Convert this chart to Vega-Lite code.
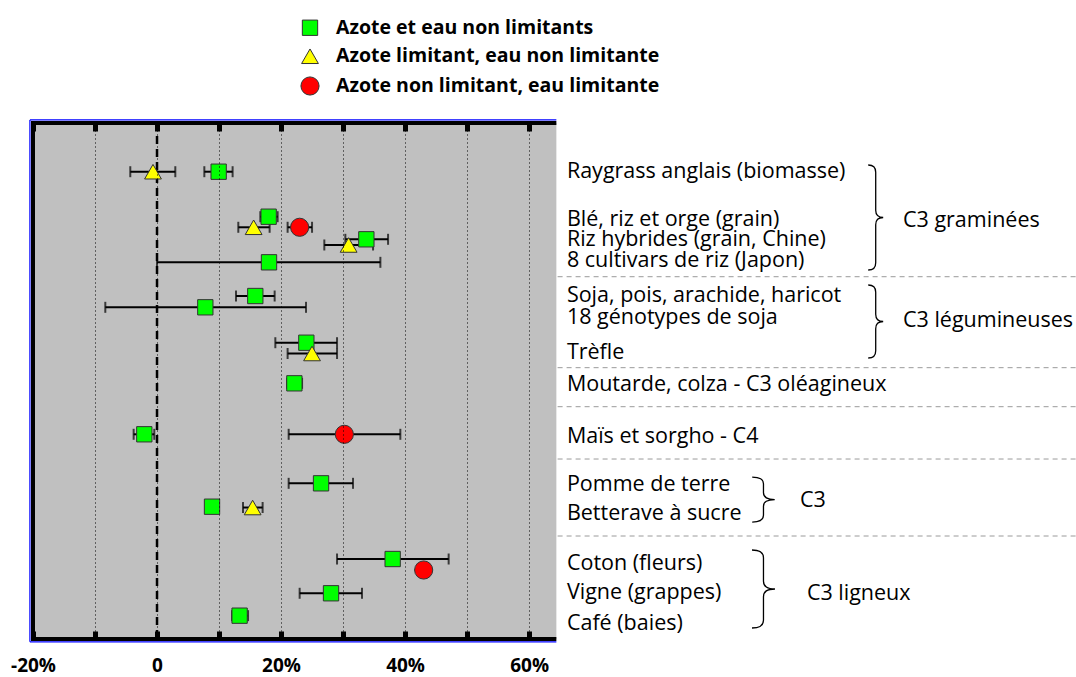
{
  "$schema": "https://vega.github.io/schema/vega-lite/v6.json",
  "width": 1043,
  "height": 516,
  "autosize": {"type": "none"},
  "padding": {"left": 33, "top": 123, "right": 0, "bottom": 38},
  "background": "white",
  "config": {"view": {"stroke": null}, "axisY": {"disable": true}},
  "resolve": {"axis": {"x": "independent"}},
  "datasets": {
    "points": [
      {"crop": "Raygrass anglais", "cond": "Azote limitant, eau non limitante", "effect": -0.65, "lo": -4.31, "hi": 2.95, "row": 9.44},
      {"crop": "Raygrass anglais", "cond": "Azote et eau non limitants", "effect": 9.94, "lo": 7.63, "hi": 12.19, "row": 9.44},
      {"crop": "Blé, riz et orge", "cond": "Azote et eau non limitants", "effect": 18.0, "lo": 16.66, "hi": 19.45, "row": 18.16},
      {"crop": "Blé, riz et orge", "cond": "Azote limitant, eau non limitante", "effect": 15.58, "lo": 13.11, "hi": 18.16, "row": 20.21},
      {"crop": "Blé, riz et orge", "cond": "Azote non limitant, eau limitante", "effect": 23.0, "lo": 21.06, "hi": 25.0, "row": 20.21},
      {"crop": "Riz hybrides", "cond": "Azote et eau non limitants", "effect": 33.76, "lo": 30.37, "hi": 37.26, "row": 22.54},
      {"crop": "Riz hybrides", "cond": "Azote limitant, eau non limitante", "effect": 30.9, "lo": 26.98, "hi": 34.84, "row": 23.64},
      {"crop": "8 cultivars de riz", "cond": "Azote et eau non limitants", "effect": 18.06, "lo": 0, "hi": 36.02, "row": 27.0},
      {"crop": "Soja, pois, arachide, haricot", "cond": "Azote et eau non limitants", "effect": 15.85, "lo": 12.74, "hi": 18.97, "row": 33.53},
      {"crop": "18 génotypes de soja", "cond": "Azote et eau non limitants", "effect": 7.79, "lo": -8.34, "hi": 24.03, "row": 35.72},
      {"crop": "Trèfle", "cond": "Azote et eau non limitants", "effect": 24.08, "lo": 19.08, "hi": 29.03, "row": 42.58},
      {"crop": "Trèfle", "cond": "Azote limitant, eau non limitante", "effect": 25.0, "lo": 21.06, "hi": 29.03, "row": 44.67},
      {"crop": "Moutarde, colza", "cond": "Azote et eau non limitants", "effect": 22.15, "lo": 20.97, "hi": 23.39, "row": 50.45},
      {"crop": "Maïs et sorgho", "cond": "Azote et eau non limitants", "effect": -2.05, "lo": -3.77, "hi": -0.44, "row": 60.33},
      {"crop": "Maïs et sorgho", "cond": "Azote non limitant, eau limitante", "effect": 30.21, "lo": 21.23, "hi": 39.24, "row": 60.33},
      {"crop": "Pomme de terre", "cond": "Azote et eau non limitants", "effect": 26.45, "lo": 21.23, "hi": 31.61, "row": 69.83},
      {"crop": "Betterave à sucre", "cond": "Azote et eau non limitants", "effect": 8.87, "lo": 7.9, "hi": 9.84, "row": 74.36},
      {"crop": "Betterave à sucre", "cond": "Azote limitant, eau non limitante", "effect": 15.42, "lo": 13.87, "hi": 17.03, "row": 74.52},
      {"crop": "Coton", "cond": "Azote et eau non limitants", "effect": 38.0, "lo": 29.03, "hi": 47.03, "row": 84.5},
      {"crop": "Coton", "cond": "Azote non limitant, eau limitante", "effect": 43.0, "lo": null, "hi": null, "row": 86.63},
      {"crop": "Vigne", "cond": "Azote et eau non limitants", "effect": 28.06, "lo": 23.0, "hi": 33.06, "row": 91.14},
      {"crop": "Café", "cond": "Azote et eau non limitants", "effect": 13.32, "lo": 12.1, "hi": 14.68, "row": 95.48}
    ],
    "labels": [
      {"label": "Raygrass anglais (biomasse)", "row": 9.5},
      {"label": "Blé, riz et orge (grain)", "row": 18.8},
      {"label": "Riz hybrides (grain, Chine)", "row": 22.77},
      {"label": "8 cultivars de riz (Japon)", "row": 26.84},
      {"label": "Soja, pois, arachide, haricot", "row": 33.62},
      {"label": "18 génotypes de soja", "row": 37.79},
      {"label": "Trèfle", "row": 44.63},
      {"label": "Moutarde, colza -  C3 oléagineux", "row": 50.78},
      {"label": "Maïs et sorgho - C4", "row": 60.76},
      {"label": "Pomme de terre", "row": 70.25},
      {"label": "Betterave à sucre", "row": 75.87},
      {"label": "Coton (fleurs)", "row": 85.56},
      {"label": "Vigne (grappes)", "row": 91.18},
      {"label": "Café (baies)", "row": 97.0}
    ],
    "groups": [
      {"group": "C3 graminées", "side": "far", "row": 18.99},
      {"group": "C3 légumineuses", "side": "far", "row": 38.37},
      {"group": "C3", "side": "near", "row": 73.35},
      {"group": "C3 ligneux", "side": "near2", "row": 91.28}
    ],
    "separators": [
      {"row": 29.79}, {"row": 47.42}, {"row": 54.98}, {"row": 65.12}, {"row": 80.04}
    ],
    "braces": [
      {"group": "C3 graminées", "row": 18.31},
      {"group": "C3 légumineuses", "row": 38.47},
      {"group": "C3", "row": 72.97},
      {"group": "C3 ligneux", "row": 90.31}
    ]
  },
  "layer": [
    {
      "data": {"values": [{}]},
      "mark": {"type": "rect", "fill": "#C0C0C0"},
      "encoding": {
        "x": {"datum": -20, "type": "quantitative", "axis": null},
        "x2": {"datum": 64.4},
        "y": {"datum": 0, "type": "quantitative"},
        "y2": {"datum": 100}
      }
    },
    {
      "data": {"name": "separators"},
      "mark": {"type": "rule", "color": "#9a9a9a", "strokeDash": [5, 4], "strokeWidth": 1},
      "encoding": {
        "x": {"datum": 64.6, "type": "quantitative", "axis": null},
        "x2": {"datum": 148.2},
        "y": {"field": "row", "type": "quantitative"}
      }
    },
    {
      "data": {"values": [{}]},
      "mark": {"type": "rule", "color": "black", "strokeDash": [8, 5], "strokeWidth": 2.5},
      "encoding": {
        "x": {"datum": 0, "type": "quantitative", "axis": null},
        "y": {"datum": 0, "type": "quantitative"},
        "y2": {"datum": 100}
      }
    },
    {
      "data": {"values": [{}]},
      "mark": {"type": "rule", "color": "#0000FF", "strokeWidth": 1.2},
      "encoding": {
        "x": {"datum": -20.5, "type": "quantitative", "axis": null},
        "y": {"datum": -0.6, "type": "quantitative"},
        "y2": {"datum": 100.55}
      }
    },
    {
      "data": {"values": [{}]},
      "mark": {"type": "rule", "color": "#0000FF", "strokeWidth": 1.2},
      "encoding": {
        "x": {"datum": -20.5, "type": "quantitative", "axis": null},
        "x2": {"datum": 64.4},
        "y": {"datum": -0.6, "type": "quantitative"}
      }
    },
    {
      "data": {"values": [{}]},
      "mark": {"type": "rule", "color": "#0000FF", "strokeWidth": 1.2},
      "encoding": {
        "x": {"datum": -20.5, "type": "quantitative", "axis": null},
        "x2": {"datum": 64.4},
        "y": {"datum": 100.55, "type": "quantitative"}
      }
    },
    {
      "data": {"values": [{}]},
      "mark": {"type": "rule", "color": "black", "strokeWidth": 4},
      "encoding": {
        "x": {"datum": -20, "type": "quantitative", "axis": null},
        "y": {"datum": -0.4, "type": "quantitative"},
        "y2": {"datum": 100.4}
      }
    },
    {
      "data": {"values": [{}]},
      "mark": {"type": "rule", "color": "black", "strokeWidth": 4},
      "encoding": {
        "x": {"datum": -20.3, "type": "quantitative", "axis": null},
        "x2": {"datum": 64.4},
        "y": {"datum": 0, "type": "quantitative"}
      }
    },
    {
      "data": {"values": [{}]},
      "mark": {"type": "rule", "color": "black", "strokeWidth": 4},
      "encoding": {
        "x": {"datum": -20.3, "type": "quantitative", "axis": null},
        "x2": {"datum": 64.4},
        "y": {"datum": 100, "type": "quantitative"}
      }
    },
    {
      "data": {"name": "points"},
      "transform": [{"filter": "datum.lo != null"}],
      "mark": {"type": "rule", "color": "black", "strokeWidth": 2},
      "encoding": {
        "x": {
          "field": "lo", "type": "quantitative",
          "axis": {
            "orient": "top", "values": [-20, -10, 0, 10, 20, 30, 40, 50, 60],
            "labels": false, "grid": false, "domain": false, "title": null,
            "tickSize": -8, "tickWidth": 5, "tickColor": "black", "zindex": 1
          }
        },
        "x2": {"field": "hi"},
        "y": {"field": "row", "type": "quantitative"}
      }
    },
    {
      "data": {"name": "points"},
      "transform": [{"filter": "datum.lo != null"}],
      "mark": {"type": "tick", "orient": "vertical", "color": "black", "thickness": 2, "size": 11},
      "encoding": {
        "x": {"field": "lo", "type": "quantitative", "axis": null},
        "y": {"field": "row", "type": "quantitative"}
      }
    },
    {
      "data": {"name": "points"},
      "transform": [{"filter": "datum.hi != null"}],
      "mark": {"type": "tick", "orient": "vertical", "color": "black", "thickness": 2, "size": 11},
      "encoding": {
        "x": {"field": "hi", "type": "quantitative", "axis": null},
        "y": {"field": "row", "type": "quantitative"}
      }
    },
    {
      "data": {"name": "points"},
      "mark": {"type": "point", "filled": true, "opacity": 1, "stroke": "#333333", "strokeWidth": 1},
      "encoding": {
        "x": {
          "field": "effect", "type": "quantitative",
          "scale": {"domain": [-20, 148.2], "nice": false, "zero": false},
          "axis": {
            "orient": "bottom", "values": [-20, -10, 0, 10, 20, 30, 40, 50, 60],
            "labelExpr": "datum.value == 0 ? '0' : (datum.value % 20 == 0 ? datum.value + '%' : '')",
            "labelFont": "Open Sans", "labelFontWeight": "bold", "labelFontSize": 19, "labelColor": "black",
            "labelPadding": 25, "labelOverlap": false, "labelFlush": false,
            "grid": true, "gridColor": "black", "gridDash": [1, 3], "gridWidth": 1, "gridOpacity": 1,
            "domain": false, "title": null,
            "tickSize": -8, "tickWidth": 5, "tickColor": "black", "zindex": 1
          }
        },
        "y": {
          "field": "row", "type": "quantitative",
          "scale": {"domain": [0, 100], "reverse": true, "nice": false, "zero": false}
        },
        "color": {
          "field": "cond", "type": "nominal",
          "scale": {
            "domain": ["Azote et eau non limitants", "Azote limitant, eau non limitante", "Azote non limitant, eau limitante"],
            "range": ["#00FF00", "#FFFF00", "#FF0000"]
          },
          "legend": {
            "orient": "none", "legendX": 267, "legendY": -105, "title": null, "padding": 0,
            "labelFont": "Open Sans", "labelFontWeight": "bold", "labelFontSize": 19.5, "labelColor": "black", "labelLimit": 0,
            "labelOffset": 16, "rowPadding": 7.5, "symbolSize": 220,
            "symbolStrokeColor": "#333333", "symbolStrokeWidth": 1
          }
        },
        "shape": {
          "field": "cond", "type": "nominal",
          "scale": {
            "domain": ["Azote et eau non limitants", "Azote limitant, eau non limitante", "Azote non limitant, eau limitante"],
            "range": ["square", "triangle-up", "circle"]
          },
          "legend": {
            "orient": "none", "legendX": 267, "legendY": -105, "title": null, "padding": 0,
            "labelFont": "Open Sans", "labelFontWeight": "bold", "labelFontSize": 19.5, "labelColor": "black", "labelLimit": 0,
            "labelOffset": 16, "rowPadding": 7.5, "symbolSize": 220,
            "symbolStrokeColor": "#333333", "symbolStrokeWidth": 1
          }
        },
        "size": {
          "field": "cond", "type": "nominal",
          "scale": {
            "domain": ["Azote et eau non limitants", "Azote limitant, eau non limitante", "Azote non limitant, eau limitante"],
            "range": [235, 330, 220]
          },
          "legend": null
        }
      }
    },
    {
      "data": {"name": "labels"},
      "mark": {"type": "text", "align": "left", "baseline": "middle", "font": "Open Sans", "fontSize": 21.5, "color": "black"},
      "encoding": {
        "x": {"datum": 66.1, "type": "quantitative", "axis": null},
        "y": {"field": "row", "type": "quantitative"},
        "text": {"field": "label"}
      }
    },
    {
      "data": {"name": "groups"},
      "transform": [{"filter": "datum.side == 'far'"}],
      "mark": {"type": "text", "align": "left", "baseline": "middle", "font": "Open Sans", "fontSize": 21.5, "color": "black"},
      "encoding": {
        "x": {"datum": 120.3, "type": "quantitative", "axis": null},
        "y": {"field": "row", "type": "quantitative"},
        "text": {"field": "group"}
      }
    },
    {
      "data": {"name": "groups"},
      "transform": [{"filter": "datum.side == 'near'"}],
      "mark": {"type": "text", "align": "left", "baseline": "middle", "font": "Open Sans", "fontSize": 21.5, "color": "black"},
      "encoding": {
        "x": {"datum": 103.7, "type": "quantitative", "axis": null},
        "y": {"field": "row", "type": "quantitative"},
        "text": {"field": "group"}
      }
    },
    {
      "data": {"name": "groups"},
      "transform": [{"filter": "datum.side == 'near2'"}],
      "mark": {"type": "text", "align": "left", "baseline": "middle", "font": "Open Sans", "fontSize": 21.5, "color": "black"},
      "encoding": {
        "x": {"datum": 104.8, "type": "quantitative", "axis": null},
        "y": {"field": "row", "type": "quantitative"},
        "text": {"field": "group"}
      }
    },
    {
      "data": {"name": "braces"},
      "transform": [{"filter": "datum.group == 'C3 graminées'"}],
      "mark": {"type": "point", "filled": false, "opacity": 1, "stroke": "black", "strokeWidth": 1.3, "size": 11025,
        "shape": "M-0.143,-1Q0,-1 0,-0.86L0,-0.14Q0,0 0.143,0Q0,0 0,0.14L0,0.86Q0,1 -0.143,1"},
      "encoding": {
        "x": {"datum": 115.9, "type": "quantitative", "axis": null},
        "y": {"field": "row", "type": "quantitative"}
      }
    },
    {
      "data": {"name": "braces"},
      "transform": [{"filter": "datum.group == 'C3 légumineuses'"}],
      "mark": {"type": "point", "filled": false, "opacity": 1, "stroke": "black", "strokeWidth": 1.3, "size": 5329,
        "shape": "M-0.205,-1Q0,-1 0,-0.8L0,-0.2Q0,0 0.205,0Q0,0 0,0.2L0,0.8Q0,1 -0.205,1"},
      "encoding": {
        "x": {"datum": 115.9, "type": "quantitative", "axis": null},
        "y": {"field": "row", "type": "quantitative"}
      }
    },
    {
      "data": {"name": "braces"},
      "transform": [{"filter": "datum.group == 'C3'"}],
      "mark": {"type": "point", "filled": false, "opacity": 1, "stroke": "black", "strokeWidth": 1.3, "size": 2025,
        "shape": "M-0.5,-1Q0,-1 0,-0.7L0,-0.3Q0,0 0.5,0Q0,0 0,0.3L0,0.7Q0,1 -0.5,1"},
      "encoding": {
        "x": {"datum": 97.8, "type": "quantitative", "axis": null},
        "y": {"field": "row", "type": "quantitative"}
      }
    },
    {
      "data": {"name": "braces"},
      "transform": [{"filter": "datum.group == 'C3 ligneux'"}],
      "mark": {"type": "point", "filled": false, "opacity": 1, "stroke": "black", "strokeWidth": 1.3, "size": 6084,
        "shape": "M-0.295,-1Q0,-1 0,-0.8L0,-0.2Q0,0 0.295,0Q0,0 0,0.2L0,0.8Q0,1 -0.295,1"},
      "encoding": {
        "x": {"datum": 97.8, "type": "quantitative", "axis": null},
        "y": {"field": "row", "type": "quantitative"}
      }
    }
  ]
}
